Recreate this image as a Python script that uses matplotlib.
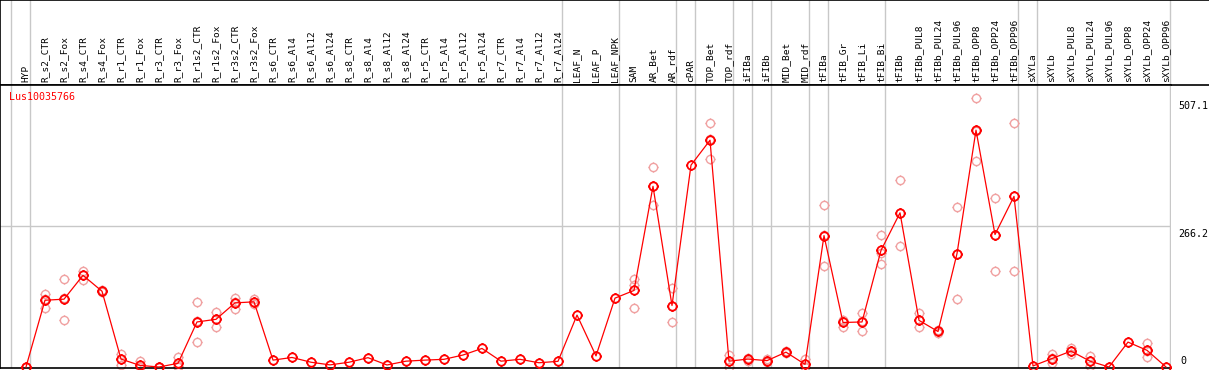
import numpy as np
import matplotlib
matplotlib.use("Agg")
import matplotlib.pyplot as plt
from matplotlib.path import Path
from matplotlib.transforms import blended_transform_factory, offset_copy

gene = "Lus10035766"

labels = ["HYP", "R_s2_CTR", "R_s2_Fox", "R_s4_CTR", "R_s4_Fox", "R_r1_CTR", "R_r1_Fox",
          "R_r3_CTR", "R_r3_Fox", "R_r1s2_CTR", "R_r1s2_Fox", "R_r3s2_CTR", "R_r3s2_Fox",
          "R_s6_CTR", "R_s6_Al4", "R_s6_Al12", "R_s6_Al24", "R_s8_CTR", "R_s8_Al4",
          "R_s8_Al12", "R_s8_Al24", "R_r5_CTR", "R_r5_Al4", "R_r5_Al12", "R_r5_Al24",
          "R_r7_CTR", "R_r7_Al4", "R_r7_Al12", "R_r7_Al24", "LEAF_N", "LEAF_P", "LEAF_NPK",
          "SAM", "AR_Bet", "AR_rdf", "cPAR", "TOP_Bet", "TOP_rdf", "iFIBa", "iFIBb",
          "MID_Bet", "MID_rdf", "tFIBa", "tFIB_Gr", "tFIB_Li", "tFIB_Bi", "tFIBb",
          "tFIBb_PUL8", "tFIBb_PUL24", "tFIBb_PUL96", "tFIBb_OPP8", "tFIBb_OPP24",
          "tFIBb_OPP96", "sXYLa", "sXYLb", "sXYLb_PUL8", "sXYLb_PUL24", "sXYLb_PUL96",
          "sXYLb_OPP8", "sXYLb_OPP24", "sXYLb_OPP96"]

# mean expression
means = [0, 126, 128, 173, 143, 15, 3, 0, 7, 85, 90, 121, 123,
         13, 18, 9, 4, 9, 17.6, 3.8, 11, 13, 14.5, 22.6, 35, 11, 14.5, 8, 10.7,
         98, 21, 130, 144.5, 341, 116, 381, 428, 11, 15, 12, 28, 5,
         248, 84, 85, 220, 291, 88, 67, 214, 447, 250, 322,
         2, 16, 30, 11, 0, 47, 31.5, 0]

nan = np.nan
# replicates (nan = not shown)
rep1 = [0, 138, 166, 182, 145, 25, 11, 0, 19, 122, 103, 130, 128,
        nan, nan, nan, nan, nan, nan, nan, nan, nan, nan, nan, nan, nan, nan, nan, nan,
        nan, nan, nan, 166, 377, 150, nan, 460, 23, 17, 15, 30, 16,
        305, 87, 102, 250, 353, 102, 70, 302, 507.1, 318, 460,
        nan, 24.5, 35, 21, nan, nan, 45, nan]
rep2 = [0, 112, 88, 165, 142, 4, 0, 0, 0, 47, 76, 109, 119,
        nan, nan, nan, nan, nan, nan, nan, nan, nan, nan, nan, nan, nan, nan, nan, nan,
        nan, nan, nan, 155, 305, 84, nan, 393, 0, 12, 9, 26, 0,
        191, 76, 67, 194, 228, 75, 64, 128, 388, 182, 182,
        nan, 7, 24, 2, nan, nan, 18, nan]
rep3 = [0, 128, 130, 173, 143, 16, 0, 0, 2, 86, 91, 123, 122,
        nan, nan, nan, nan, nan, nan, nan, nan, nan, nan, nan, nan, nan, nan, nan, nan,
        nan, nan, nan, 111, 341, 116, nan, 430, 11, 15, 12, 28, 0,
        249, 88, 86, 216, 291, 88, 67, 213, 446, 250, 323,
        nan, 17, 31, 11, nan, nan, 31, nan]

# group separators (after these columns)
group_ends = [-1, 0, 28, 31, 34, 35, 37, 38, 39, 41, 42, 45, 52, 53, 60]

W, H = 1209, 370
fig = plt.figure(figsize=(W / 100, H / 100), dpi=100)

# column i sits at pixel 26 + 19*i
def px2i(p):
    return (p - 26) / 19.0

ax_h = fig.add_axes([0, (H - 85) / H, 1, 85 / H])
ax = fig.add_axes([0, 2 / H, 1171 / W, 283 / H])

ax_h.set_xlim(px2i(0), px2i(W))
ax_h.set_ylim(0, 1)
ax.set_xlim(px2i(0), px2i(1171))
y0 = 367.0
scale = (y0 - 98.3) / 507.1
ax.set_ylim(-(368 - y0) / scale, (y0 - 85) / scale)

for a in (ax, ax_h):
    a.set_xticks([])
    a.set_yticks([])
    a.spines["right"].set_visible(False)
    for s in ("left", "top", "bottom"):
        a.spines[s].set_color("black")
        a.spines[s].set_linewidth(1.2)
    for g in group_ends:
        a.axvline(g + 0.21, color="#c8c8c8", lw=1.0, zorder=0)

ax.axhline(266.2, color="#c8c8c8", lw=1.0, zorder=0)

mono = "DejaVu Sans Mono"
tr = blended_transform_factory(ax_h.transData, ax_h.transAxes)
for i, lab in enumerate(labels):
    ax_h.text(i, 0.03, lab, rotation=90, ha="center", va="bottom",
              fontsize=6.8, family=mono, transform=tr)

# circle with small ticks
t = 1.22
tick_verts = [(0, 1), (0, t), (0, -1), (0, -t), (1, 0), (t, 0), (-1, 0), (-t, 0)]
tick_codes = [Path.MOVETO, Path.LINETO] * 4
marker = Path.make_compound_path(Path.unit_circle(), Path(tick_verts, tick_codes))

x = np.arange(len(labels))
for r in (rep1, rep2, rep3):
    ax.plot(x, r, ls="none", marker=marker, ms=7.2, mfc="none",
            mec="#f0a0a0", mew=1.0, zorder=2, clip_on=False)

ax.plot(x, means, color="red", lw=0.9, zorder=3, clip_on=False)
ax.plot(x, means, ls="none", marker=marker, ms=7.4, mfc="none",
        mec="red", mew=1.3, zorder=4, clip_on=False)

ax.text(9 / 1171, (368 - 92) / 283, gene, color="red", fontsize=7.2, family=mono,
        ha="left", va="top", transform=ax.transAxes)

ty = blended_transform_factory(ax.transAxes, ax.transData)
ty_low = offset_copy(ty, fig=fig, x=0, y=-3, units="dots")
ax.text(1178 / 1171, 507.1, "507.1", fontsize=7.2, family=mono, ha="left", va="top",
        transform=ty_low, clip_on=False)
ax.text(1178 / 1171, 266.2, "266.2", fontsize=7.2, family=mono, ha="left", va="top",
        transform=ty_low, clip_on=False)
ax.text(1180 / 1171, 2, "0", fontsize=7.2, family=mono, ha="left", va="bottom",
        transform=ty, clip_on=False)

fig.savefig("out.png", dpi=100)
